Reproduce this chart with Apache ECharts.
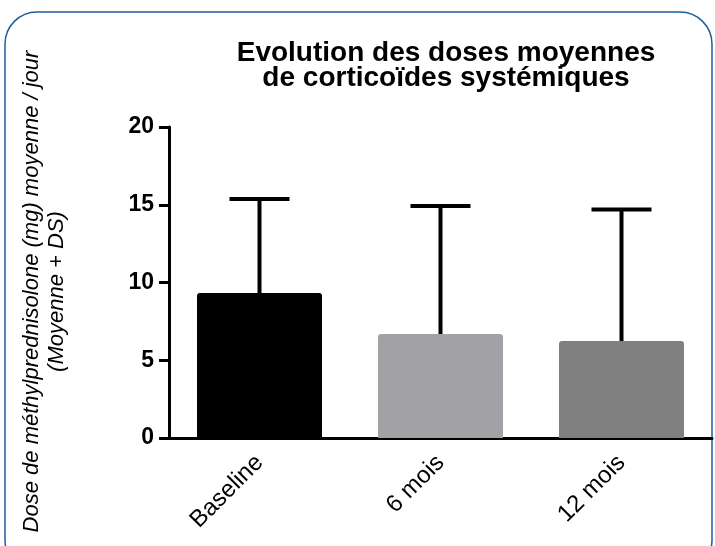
<!DOCTYPE html>
<html>
<head>
    <meta charset="utf-8">
    <title>Evolution des doses moyennes</title>
    <script src="https://cdn.jsdelivr.net/npm/echarts@6/dist/echarts.min.js"></script>
    <style>
        html, body { margin: 0; padding: 0; background: #fff; }
        #chart { width: 715px; height: 546px; }
    </style>
</head>
<body>
    <div id="chart"></div>
    <script type="text/javascript">
        // données
        const categories = ['Baseline', '6 mois', '12 mois'];
        const moyennes = [9.32, 6.69, 6.24];
        const ecartsTypes = [6.05, 8.23, 8.46]; // moyenne + DS = haut de la barre d'erreur
        const couleurs = ['#000000', '#a2a1a6', '#808080'];
        const yTicks = [0, 5, 10, 15, 20];

        const chart = echarts.init(document.getElementById('chart'));

        const font = 'Liberation Sans, Arial, sans-serif';

        const option = {
            animation: false,
            title: {
                text: 'Evolution des doses moyennes\nde corticoïdes systémiques',
                left: 441,
                textAlign: 'center',
                top: 36,
                textStyle: {
                    fontFamily: font,
                    fontWeight: 'bold',
                    fontSize: 28,
                    lineHeight: 25,
                    color: '#000'
                }
            },
            graphic: [{
                type: 'rect',
                shape: { x: 5, y: 12, width: 707, height: 560, r: 32 },
                style: { fill: 'none', stroke: '#1f5c9c', lineWidth: 1.5 },
                silent: true
            }],
            grid: { left: 169, right: 3, top: 127, bottom: 108 },
            xAxis: {
                type: 'category',
                data: categories,
                axisLine: { lineStyle: { color: '#000', width: 3 } },
                axisTick: { alignWithLabel: true, length: 9, lineStyle: { width: 3, color: '#000' } },
                axisLabel: {
                    rotate: 45,
                    fontFamily: font,
                    fontSize: 24,
                    color: '#000',
                    margin: 21
                }
            },
            yAxis: {
                type: 'value',
                min: yTicks[0],
                max: yTicks[yTicks.length - 1],
                interval: 5,
                name: 'Dose de méthylprednisolone (mg) moyenne / jour\n(Moyenne + DS)',
                nameLocation: 'middle',
                nameRotate: 90,
                nameGap: 100,
                nameTextStyle: {
                    fontFamily: font,
                    fontStyle: 'italic',
                    fontSize: 22,
                    lineHeight: 25,
                    color: '#000',
                    padding: [0, 18, 0, 0]
                },
                splitLine: { show: false },
                axisLine: { show: true, lineStyle: { color: '#000', width: 3 } },
                axisTick: { show: true, length: 10, lineStyle: { width: 3, color: '#000' } },
                axisLabel: {
                    fontFamily: font,
                    fontWeight: 'bold',
                    fontSize: 23,
                    color: '#000',
                    margin: 15
                }
            },
            series: [{
                type: 'bar',
                data: moyennes.map(function (v, i) {
                    return { value: v, itemStyle: { color: couleurs[i] } };
                }),
                barWidth: 125,
                itemStyle: { borderRadius: [3, 3, 0, 0] },
                z: 2
            }, {
                // barres d'erreur (haut seulement)
                type: 'custom',
                data: moyennes.map(function (v, i) { return [i, v, v + ecartsTypes[i]]; }),
                z: 3,
                renderItem: function (params, api) {
                    const bas = api.coord([api.value(0), api.value(1)]);
                    const haut = api.coord([api.value(0), api.value(2)]);
                    const demi = 30;
                    const style = { stroke: '#000', lineWidth: 4 };
                    return {
                        type: 'group',
                        children: [{
                            type: 'line',
                            shape: { x1: bas[0], y1: bas[1], x2: haut[0], y2: haut[1] },
                            style: style
                        }, {
                            type: 'line',
                            shape: { x1: haut[0] - demi, y1: haut[1], x2: haut[0] + demi, y2: haut[1] },
                            style: style
                        }]
                    };
                }
            }]
        };

        chart.setOption(option);
    </script>
</body>
</html>
